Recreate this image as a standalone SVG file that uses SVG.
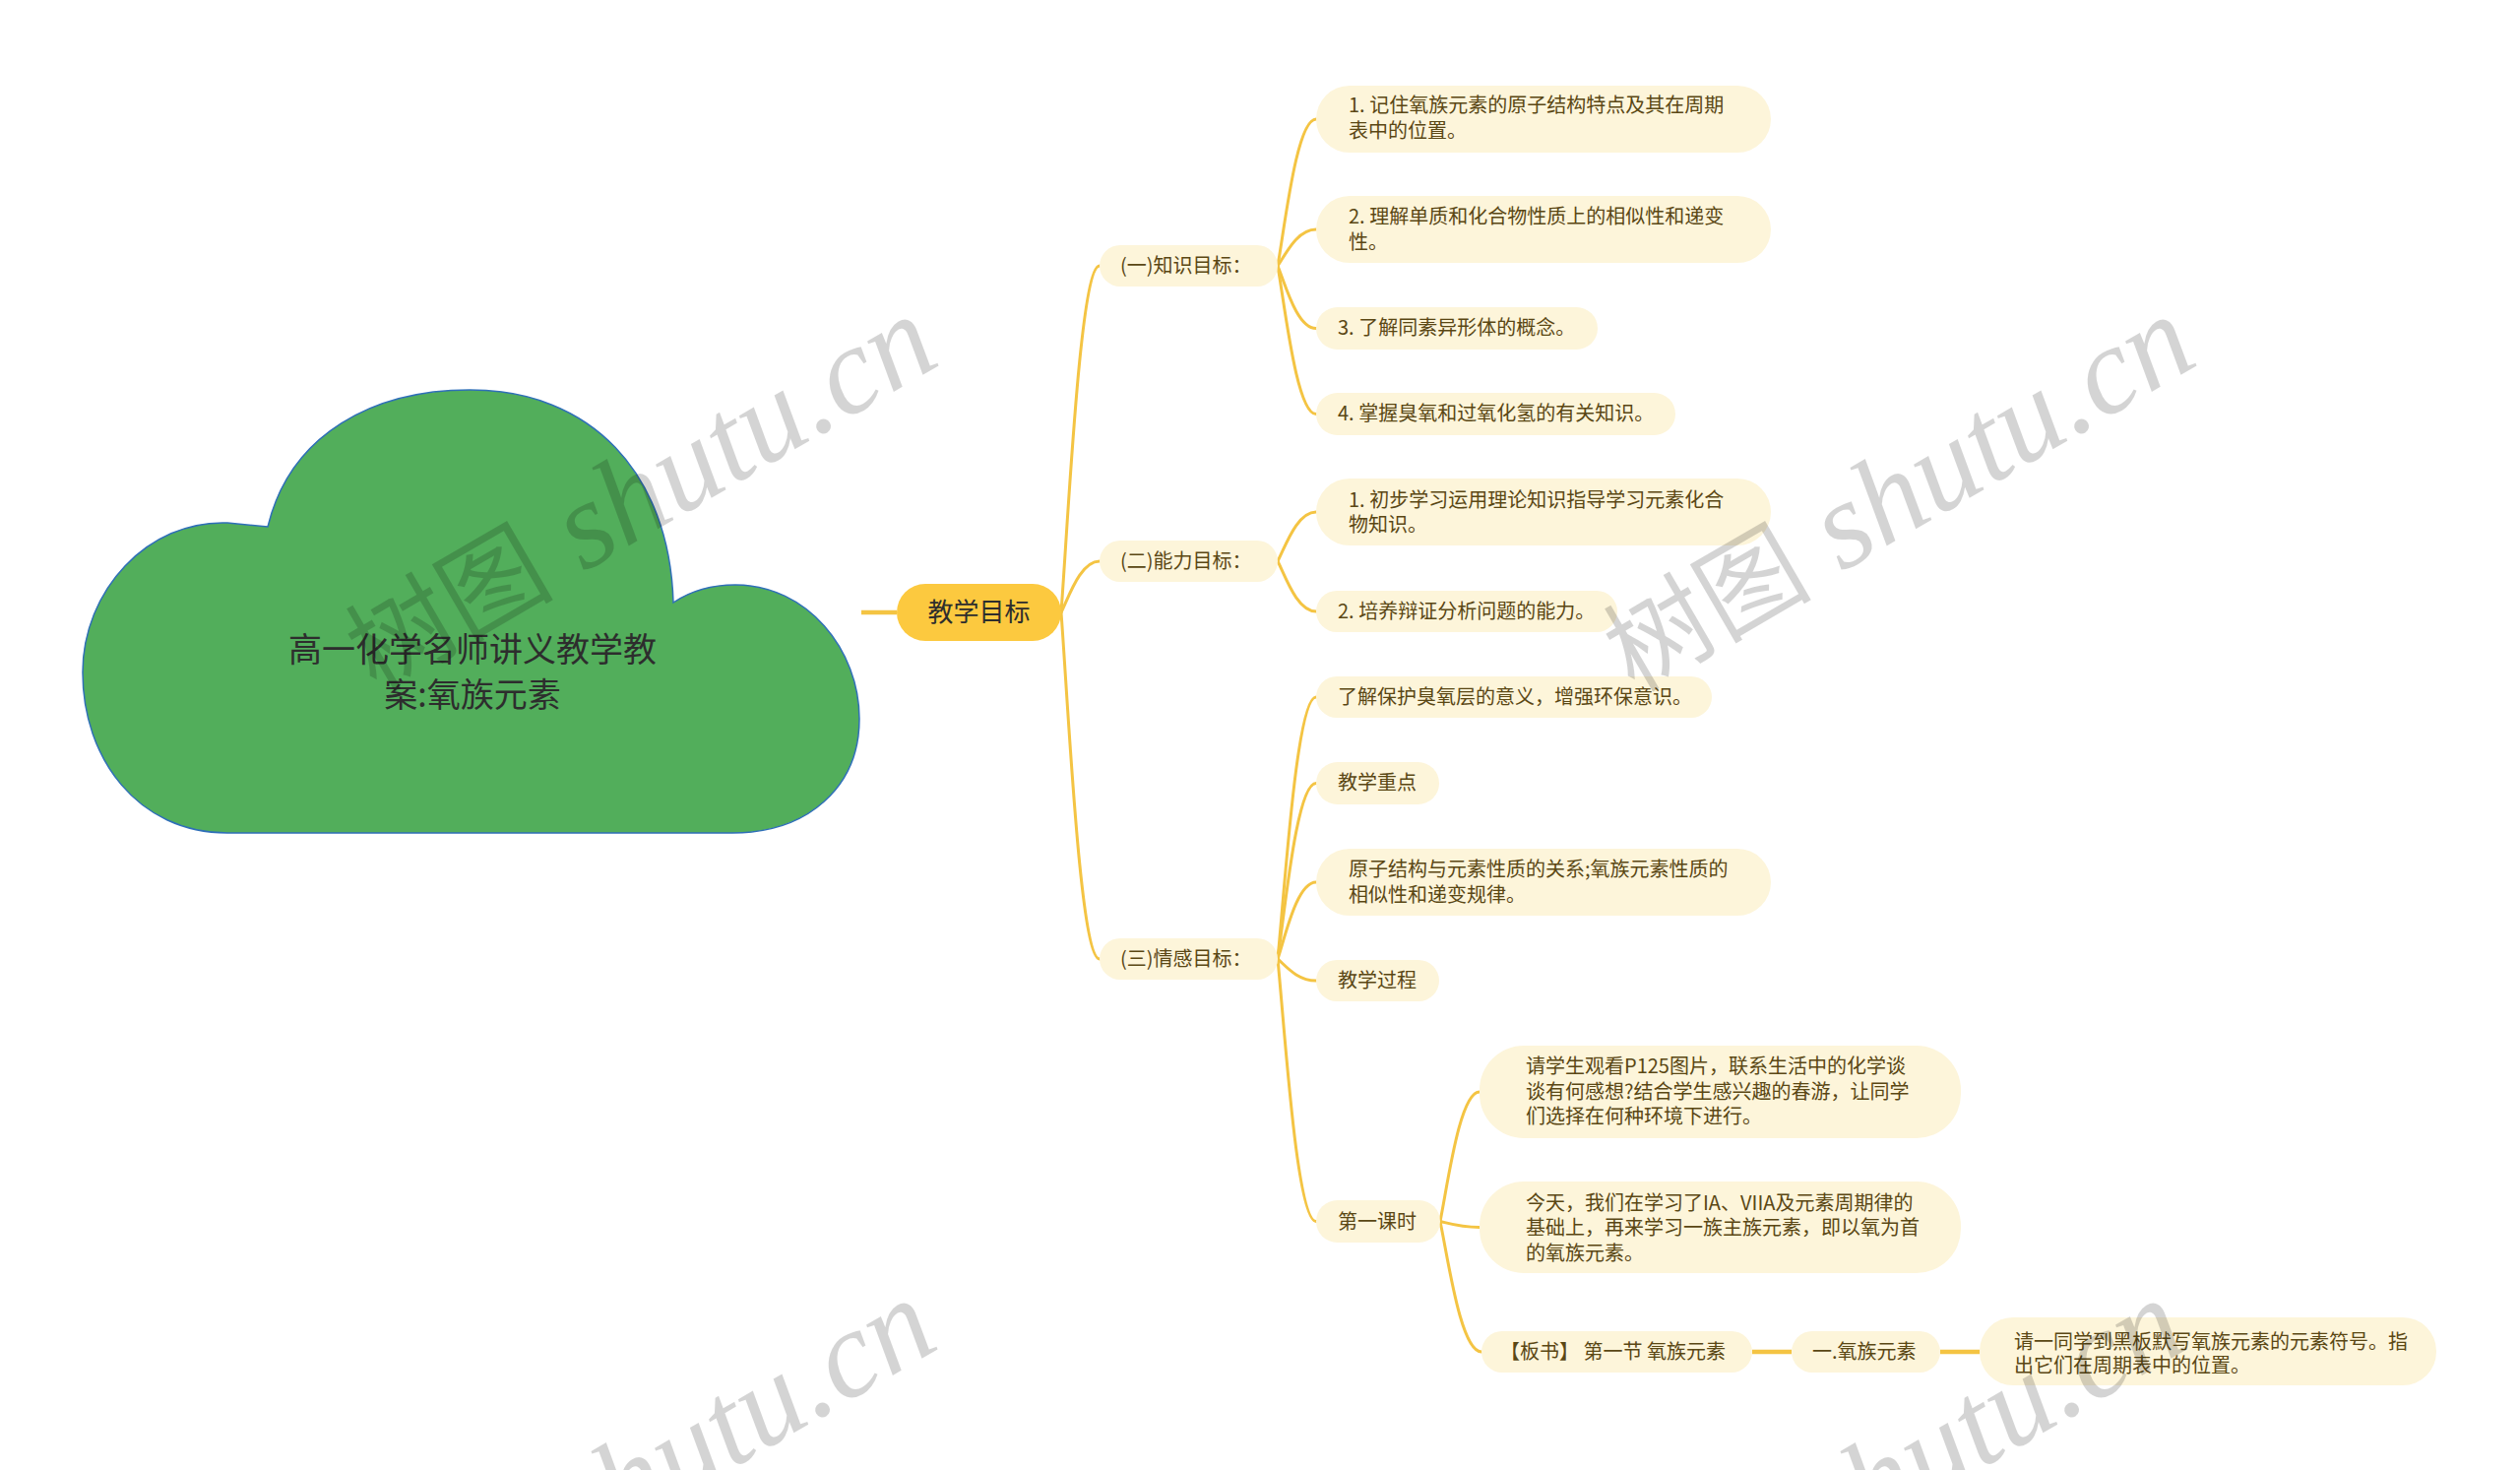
<svg xmlns="http://www.w3.org/2000/svg" width="2560" height="1493" viewBox="0 0 2560 1493">
<style>
.bg{fill:#ffffff}
.box{fill:#FDF5DA}
.t{font-family:"Noto Sans CJK SC","Noto Sans",sans-serif;font-size:20px;fill:#5a4714}
.c{fill:none;stroke:#F4C443;stroke-width:3;stroke-linecap:round}
.ct{fill:none;stroke:#F4C443;stroke-width:4.5;stroke-linecap:butt}
.wm{fill:#000000;fill-opacity:0.17}
.wmc{font-family:"Noto Sans CJK SC",sans-serif;font-size:106px}
.wml{font-family:"Liberation Serif",serif;font-style:italic;font-size:126px}
</style>
<rect class="bg" x="0" y="0" width="2560" height="1493"/>
<g id="connectors">
<path class="ct" d="M875 622 L911 622"/>
<path class="c" d="M1078 622 C1085.8 516.4 1097.5 270 1117 270"/>
<path class="c" d="M1078 622 C1085.8 606.4 1097.5 570 1117 570"/>
<path class="c" d="M1078 622 C1085.8 727.6 1097.5 974 1117 974"/>
<path class="c" d="M1298 270 C1305.8 225.3 1317.5 121 1337 121"/>
<path class="c" d="M1298 270 C1305.8 258.9 1317.5 233 1337 233"/>
<path class="c" d="M1298 270 C1305.8 289 1317.5 333.5 1337 333.5"/>
<path class="c" d="M1298 270 C1305.8 315.2 1317.5 420.5 1337 420.5"/>
<path class="c" d="M1298 570 C1305.8 555 1317.5 520 1337 520"/>
<path class="c" d="M1298 570 C1305.8 585.3 1317.5 621 1337 621"/>
<path class="c" d="M1298 974 C1305.8 894.2 1317.5 708 1337 708"/>
<path class="c" d="M1298 974 C1305.8 920.5 1317.5 795.5 1337 795.5"/>
<path class="c" d="M1298 974 C1305.8 950.6 1317.5 896 1337 896"/>
<path class="c" d="M1298 974 C1305.8 980.6 1317.5 996 1337 996"/>
<path class="c" d="M1298 974 C1305.8 1054 1317.5 1240.5 1337 1240.5"/>
<path class="c" d="M1463 1240.5 C1471 1201 1483 1109 1503 1109"/>
<path class="c" d="M1463 1240.5 C1471 1242.3 1483 1246.5 1503 1246.5"/>
<path class="c" d="M1463 1240.5 C1471.4 1280.3 1484 1373 1505 1373"/>
<path class="ct" d="M1780 1373 L1820 1373"/>
<path class="ct" d="M1971 1373 L2011 1373"/>
</g>
<g id="root">
<path d="M231 846 C140 846 84 770 84 683 C84 600 150 528 231 531 L272 535 C295 440 380 396 477 396 C600 396 680 480 684 612 C705 598 725 594 747 594 C820 594 873 660 873 730 C873 800 820 846 744 846 Z" fill="#52AE5B" stroke="#2F6FB8" stroke-width="1.5"/>
<text x="480" y="672" text-anchor="middle" style="font-family:'Noto Sans CJK SC',sans-serif;font-size:34px;fill:#2d2d2d">高一化学名师讲义教学教</text>
<text x="480" y="718" text-anchor="middle" style="font-family:'Noto Sans CJK SC',sans-serif;font-size:34px;fill:#2d2d2d">案:氧族元素</text>
</g>
<g id="n-jxmb">
<rect x="911" y="593" width="167" height="58" rx="29" fill="#FCC93F"/>
<text x="994.5" y="631" text-anchor="middle" style="font-family:'Noto Sans CJK SC',sans-serif;font-size:26px;fill:#2d2d2d">教学目标</text>
</g>
<g id="n-a">
<rect class="box" x="1117" y="249" width="181" height="42" rx="21"/>
<text class="t" x="1138" y="277">(一)知识目标：</text>
</g>
<g id="n-b">
<rect class="box" x="1117" y="549" width="181" height="42" rx="21"/>
<text class="t" x="1138" y="577">(二)能力目标：</text>
</g>
<g id="n-c">
<rect class="box" x="1117" y="953" width="181" height="42" rx="21"/>
<text class="t" x="1138" y="981">(三)情感目标：</text>
</g>
<g id="n-a1">
<rect class="box" x="1337" y="87" width="462" height="68" rx="34"/>
<text class="t" x="1370" y="114">1. 记住氧族元素的原子结构特点及其在周期</text>
<text class="t" x="1370" y="140">表中的位置。</text>
</g>
<g id="n-a2">
<rect class="box" x="1337" y="199" width="462" height="68" rx="34"/>
<text class="t" x="1370" y="227">2. 理解单质和化合物性质上的相似性和递变</text>
<text class="t" x="1370" y="253">性。</text>
</g>
<g id="n-a3">
<rect class="box" x="1337" y="312" width="286" height="43" rx="21.5"/>
<text class="t" x="1359" y="340">3. 了解同素异形体的概念。</text>
</g>
<g id="n-a4">
<rect class="box" x="1337" y="399" width="365" height="43" rx="21.5"/>
<text class="t" x="1359" y="427">4. 掌握臭氧和过氧化氢的有关知识。</text>
</g>
<g id="n-b1">
<rect class="box" x="1337" y="486" width="462" height="68" rx="34"/>
<text class="t" x="1370" y="515">1. 初步学习运用理论知识指导学习元素化合</text>
<text class="t" x="1370" y="540">物知识。</text>
</g>
<g id="n-b2">
<rect class="box" x="1337" y="600" width="306" height="42" rx="21"/>
<text class="t" x="1359" y="628">2. 培养辩证分析问题的能力。</text>
</g>
<g id="n-c1">
<rect class="box" x="1337" y="687" width="402" height="42" rx="21"/>
<text class="t" x="1359" y="715">了解保护臭氧层的意义，增强环保意识。</text>
</g>
<g id="n-c2">
<rect class="box" x="1337" y="774" width="125" height="43" rx="21.5"/>
<text class="t" x="1359" y="802">教学重点</text>
</g>
<g id="n-c3">
<rect class="box" x="1337" y="862" width="462" height="68" rx="34"/>
<text class="t" x="1370" y="890">原子结构与元素性质的关系;氧族元素性质的</text>
<text class="t" x="1370" y="916">相似性和递变规律。</text>
</g>
<g id="n-c4">
<rect class="box" x="1337" y="975" width="125" height="42" rx="21"/>
<text class="t" x="1359" y="1003">教学过程</text>
</g>
<g id="n-c5">
<rect class="box" x="1337" y="1219" width="126" height="43" rx="21.5"/>
<text class="t" x="1359" y="1248">第一课时</text>
</g>
<g id="n-d1">
<rect class="box" x="1503" y="1062" width="489" height="94" rx="45"/>
<text class="t" x="1550" y="1090">请学生观看P125图片，联系生活中的化学谈</text>
<text class="t" x="1550" y="1116">谈有何感想?结合学生感兴趣的春游，让同学</text>
<text class="t" x="1550" y="1141">们选择在何种环境下进行。</text>
</g>
<g id="n-d2">
<rect class="box" x="1503" y="1200" width="489" height="93" rx="45"/>
<text class="t" x="1550" y="1229">今天，我们在学习了IA、VIIA及元素周期律的</text>
<text class="t" x="1550" y="1254">基础上，再来学习一族主族元素，即以氧为首</text>
<text class="t" x="1550" y="1280">的氧族元素。</text>
</g>
<g id="n-d3">
<rect class="box" x="1505" y="1352" width="275" height="42" rx="21"/>
<text class="t" x="1524" y="1380">【板书】 第一节 氧族元素</text>
</g>
<g id="n-e1">
<rect class="box" x="1820" y="1352" width="151" height="42" rx="21"/>
<text class="t" x="1841" y="1380">一.氧族元素</text>
</g>
<g id="n-f1">
<rect class="box" x="2011" y="1338" width="464" height="69" rx="34"/>
<text class="t" x="2046" y="1370">请一同学到黑板默写氧族元素的元素符号。指</text>
<text class="t" x="2046" y="1394">出它们在周期表中的位置。</text>
</g>
<g id="watermarks">
<text class="wm" transform="translate(382 704) rotate(-30.2)"><tspan class="wmc">树图</tspan><tspan class="wml"> shutu.cn</tspan></text>
<text class="wm" transform="translate(1660 704) rotate(-30.2)"><tspan class="wmc">树图</tspan><tspan class="wml"> shutu.cn</tspan></text>
<text class="wm" transform="translate(381 1703) rotate(-30.2)"><tspan class="wmc">树图</tspan><tspan class="wml"> shutu.cn</tspan></text>
<text class="wm" transform="translate(1650 1703) rotate(-30.2)"><tspan class="wmc">树图</tspan><tspan class="wml"> shutu.cn</tspan></text>
</g>
</svg>
